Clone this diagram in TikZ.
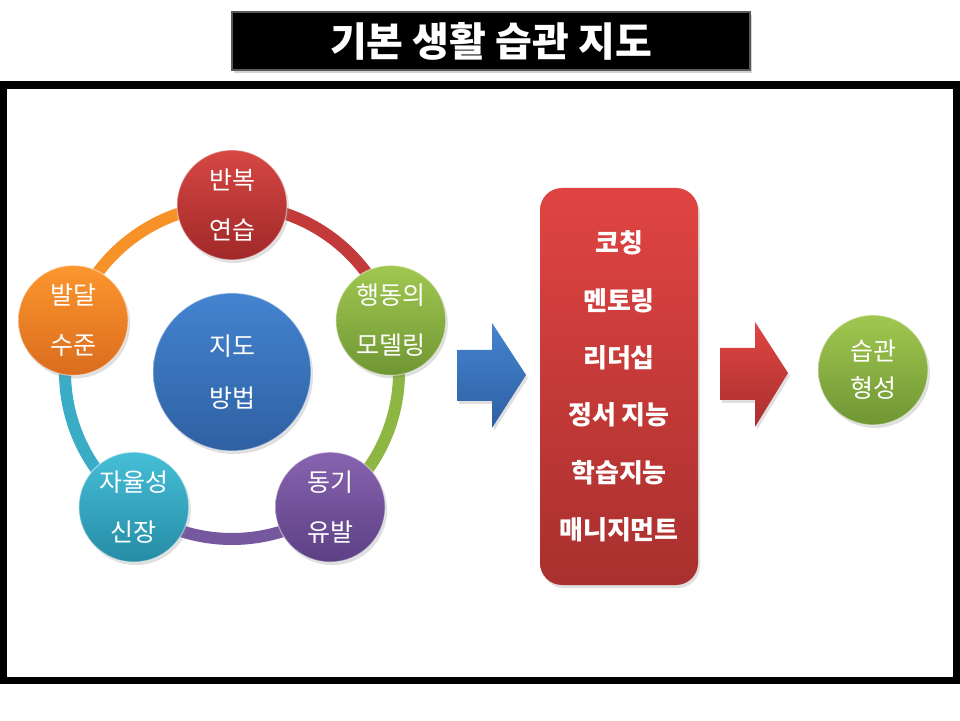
\documentclass[tikz,border=0pt]{standalone}
\usepackage{fontspec}
\setmainfont{Noto Sans CJK KR}
\usetikzlibrary{shadows}
\definecolor{redT}{RGB}{214,72,68}
\definecolor{redB}{RGB}{160,40,40}
\definecolor{grnT}{RGB}{160,200,80}
\definecolor{grnB}{RGB}{112,150,52}
\definecolor{purT}{RGB}{135,100,175}
\definecolor{purB}{RGB}{92,64,132}
\definecolor{cyaT}{RGB}{70,190,215}
\definecolor{cyaB}{RGB}{38,140,165}
\definecolor{orgT}{RGB}{252,150,45}
\definecolor{orgB}{RGB}{218,108,30}
\definecolor{bluT}{RGB}{68,132,208}
\definecolor{bluB}{RGB}{46,96,162}
\definecolor{boxT}{RGB}{224,68,66}
\definecolor{boxB}{RGB}{168,48,46}
\definecolor{redR}{RGB}{195,58,58}
\definecolor{grnR}{RGB}{142,182,66}
\definecolor{purR}{RGB}{118,88,158}
\definecolor{cyaR}{RGB}{58,172,198}
\definecolor{orgR}{RGB}{246,146,40}
\begin{document}
\begin{tikzpicture}[x=1pt,y=1pt]
        \tikzstyle{every node}+=[inner sep=0pt]
        \tikzstyle{bubble}=[circle, minimum size=110pt, draw=white, draw opacity=0.45, line width=1.2pt, text=white, align=center, font=\fontsize{25}{50}\selectfont, drop shadow={opacity=0.25, shadow xshift=2pt, shadow yshift=-3pt}]
        \tikzstyle{ring}=[line width=12pt]
        \tikzstyle{blockarrow}=[drop shadow={opacity=0.25, shadow xshift=2pt, shadow yshift=-3pt}]
        \useasboundingbox (0,0) rectangle (960,720);
        \fill [white] (0,0) rectangle (960,720);
        \draw [black, line width=7.5pt] (3.5,39.5) rectangle (957,635);
        \node [fill=black, draw=gray!70!black, line width=1.5pt, minimum width=518pt, minimum height=58pt, text=white, font=\bfseries\fontsize{40}{44}\selectfont, drop shadow={opacity=0.35, shadow xshift=2pt, shadow yshift=-3pt}] (title) at (491,679) {기본 생활 습관 지도};
        \node [bubble, minimum size=158pt, font=\fontsize{25}{52}\selectfont, top color=bluT, bottom color=bluB] (hub) at (232,348) {지도\\방법};
        \draw [ring, draw=redR] ([shift={(90:167)}]hub.center) arc [start angle=90, end angle=18, radius=167];
        \draw [ring, draw=grnR] ([shift={(18:167)}]hub.center) arc [start angle=18, end angle=-54, radius=167];
        \draw [ring, draw=purR] ([shift={(-54:167)}]hub.center) arc [start angle=-54, end angle=-126, radius=167];
        \draw [ring, draw=cyaR] ([shift={(-126:167)}]hub.center) arc [start angle=-126, end angle=-198, radius=167];
        \draw [ring, draw=orgR] ([shift={(162:167)}]hub.center) arc [start angle=162, end angle=90, radius=167];
        \node [bubble, top color=redT, bottom color=redB] (rep) at ([shift={(90:167)}]hub.center) {반복\\연습};
        \node [bubble, top color=grnT, bottom color=grnB] (model) at ([shift={(18:167)}]hub.center) {행동의\\모델링};
        \node [bubble, top color=purT, bottom color=purB] (motiv) at ([shift={(-54:167)}]hub.center) {동기\\유발};
        \node [bubble, top color=cyaT, bottom color=cyaB] (auto) at ([shift={(-126:167)}]hub.center) {자율성\\신장};
        \node [bubble, top color=orgT, bottom color=orgB] (level) at ([shift={(162:167)}]hub.center) {발달\\수준};
        \path [blockarrow, top color=bluT, bottom color=bluB] (457,370) -- (492,370) -- (492,397) -- (526,345) -- (492,292) -- (492,319) -- (457,319) -- cycle;
        \node [rounded corners=22pt, minimum width=158pt, minimum height=397pt, top color=boxT, bottom color=boxB, text=white, align=center, font=\bfseries\fontsize{26}{57.4}\selectfont, drop shadow={opacity=0.25, shadow xshift=2pt, shadow yshift=-3pt}] (box) at (619,333.5) {코칭\\멘토링\\리더십\\정서 지능\\학습지능\\매니지먼트};
        \path [blockarrow, top color=boxT, bottom color=boxB] (720,372) -- (755,372) -- (755,398) -- (788,347) -- (755,293) -- (755,320) -- (720,320) -- cycle;
        \node [bubble, font=\fontsize{25}{37}\selectfont, top color=grnT, bottom color=grnB] (goal) at (873,350) {습관\\형성};
\end{tikzpicture}
\end{document}
